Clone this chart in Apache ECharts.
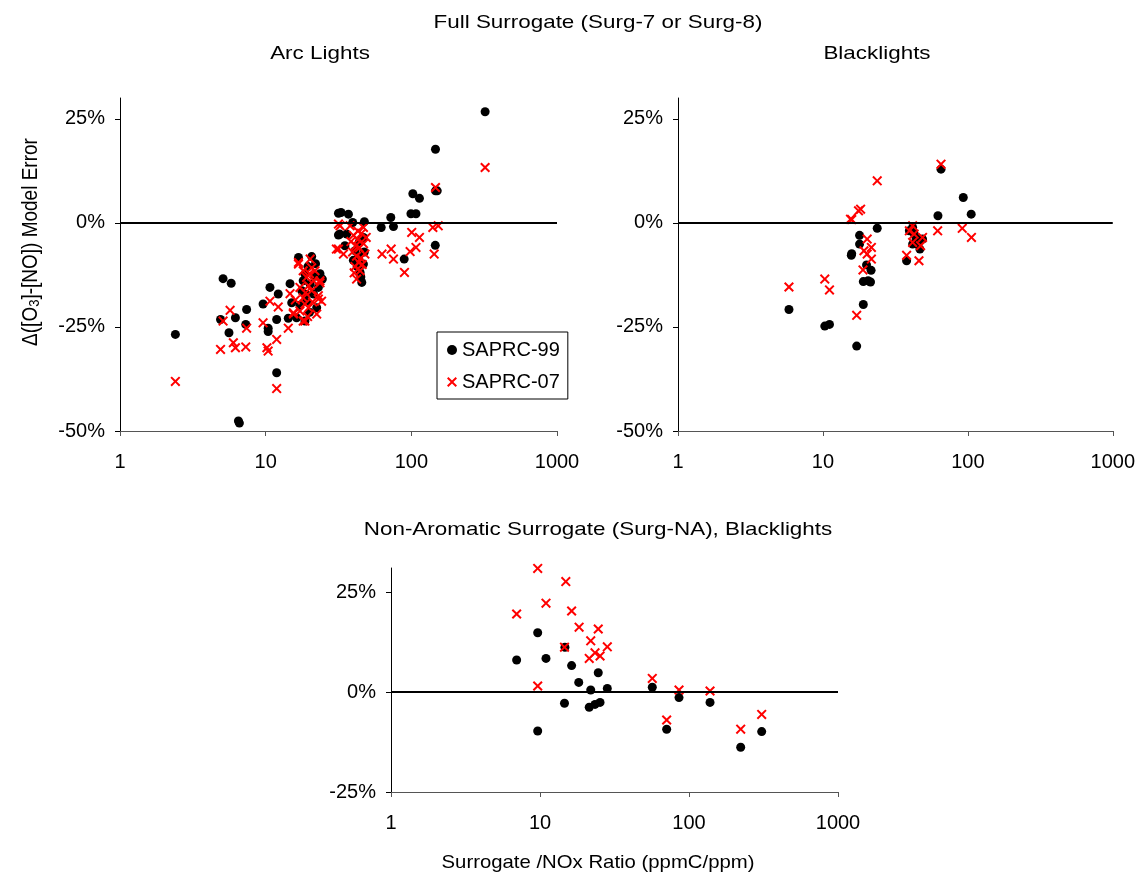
<!DOCTYPE html>
<html>
<head>
<meta charset="utf-8">
<title>Surrogate model error vs Surrogate/NOx ratio</title>
<script src="https://cdn.jsdelivr.net/npm/echarts@6/dist/echarts.min.js"></script>
<style>
  html, body { margin: 0; padding: 0; background: #fff; }
  #chart { width: 1138px; height: 876px; }
</style>
</head>
<body>
<div id="chart"></div>
<script>
// Surrogate/NOx ratio (ppmC/ppm) vs model error in delta([O3]-[NO]), percent.

// Full surrogate, arc light chamber
const arcSaprc99 = [
  [2.4,-26.8],[5.1,-13.4],[5.8,-14.5],[4.9,-23.2],[6.2,-22.8],[5.6,-26.4],[7.4,-20.8],[7.3,-24.4],
  [6.5,-47.6],[6.6,-48.1],[10.7,-15.5],[12.2,-17.1],[9.6,-19.5],[10.4,-25.3],[10.4,-26.1],[11.9,-23.2],
  [11.9,-36.0],[14.7,-14.6],[15.1,-19.2],[14.3,-22.9],[16.8,-8.3],[20.7,-8.1],[23.6,-12.2],[18.6,-12.3],
  [17.7,-16.3],[23.0,-15.5],[19.1,-18.8],[22.4,-20.4],[16.3,-22.8],[18.6,-23.6],[20.2,-14.7],[21.3,-17.1],
  [18.1,-13.9],[19.5,-10.5],[21.8,-12.8],[17.2,-19.8],[20.0,-21.5],[22.0,-9.8],[24.5,-13.5],[18.9,-17.2],
  [31.6,2.3],[31.6,-2.9],[321,26.7],[146.5,17.7],[146.5,7.7],[150.6,7.7],[102.4,7.0],[113.7,5.9],
  [99.4,2.2],[107.6,2.2],[72.3,1.3],[62.1,-1.1],[75.4,-0.9],[89.3,-8.7],[146,-5.4],[32.9,2.5],
  [37.0,2.1],[47.6,0.3],[39.6,0.1],[32.3,-2.7],[36.0,-2.7],[46.9,-3.5],[45.7,-14.3],[44.5,-11.9],
  [46.9,-9.9],[35.0,-5.5],[41.1,-6.7],[43.2,-8.3],[44.0,-4.5],[42.5,-10.5],[45.0,-13.0],[40.0,-9.0],[47.5,-7.0]
];
const arcSaprc07 = [
  [2.4,-38.1],[4.9,-30.4],[5.1,-23.6],[5.7,-21.0],[6.0,-28.8],[6.2,-30.0],[7.3,-29.8],[7.4,-25.3],
  [10.2,-30.0],[10.4,-30.8],[9.6,-24.0],[10.7,-18.8],[12.2,-20.2],[11.9,-28.0],[11.9,-39.8],[14.3,-25.3],
  [14.7,-17.0],[15.5,-21.6],[16.8,-9.9],[20.2,-8.7],[20.7,-10.8],[23.6,-13.9],[23.0,-18.3],[18.6,-23.6],
  [30.6,-6.3],[31.6,-0.3],[16.8,-9.5],[18.1,-11.5],[21.8,-11.5],[19.1,-13.1],[23.6,-14.4],[17.2,-15.5],
  [20.7,-16.3],[24.2,-18.8],[18.1,-18.0],[19.7,-20.4],[22.4,-21.9],[17.2,-21.2],[18.1,-23.6],[15.5,-21.9],
  [19.7,-15.1],[21.3,-13.9],[23.0,-17.5],[18.6,-19.5],[20.0,-12.2],[18.8,-16.8],[21.0,-19.0],[19.4,-22.5],
  [16.0,-18.5],[321,13.3],[146.5,8.5],[140.5,-1.1],[153,-0.7],[143.5,-7.5],[100.6,-2.3],[113.7,-3.5],
  [107.6,-5.9],[98.1,-6.9],[89.7,-11.9],[62.9,-7.5],[72.7,-6.3],[75.4,-8.7],[32.4,-0.7],[38.0,-0.7],
  [46.9,-1.1],[31.6,-6.3],[34.2,-7.5],[42.1,-13.5],[40.0,-3.0],[43.0,-4.0],[45.5,-2.5],[41.5,-5.5],
  [44.0,-6.0],[47.0,-5.0],[39.5,-7.0],[42.0,-8.0],[45.0,-8.5],[48.0,-7.5],[43.5,-9.5],[41.0,-10.5],
  [46.0,-10.0],[44.5,-11.5],[40.5,-12.0],[43.0,-2.0],[49.0,-3.5],[38.5,-4.5]
];

// Full surrogate, blacklight chamber
const blSaprc99 = [
  [5.83,-20.8],[10.3,-24.8],[11.1,-24.4],[17.1,-29.6],[19.0,-19.6],[15.7,-7.8],[15.8,-7.4],[17.9,-3.0],
  [17.9,-5.1],[19.0,-14.1],[20.5,-13.9],[21.3,-14.2],[20.0,-10.1],[21.5,-11.4],[23.7,-1.3],[65.3,12.9],
  [93.0,6.1],[62.2,1.7],[105.5,2.1],[41.6,-1.1],[39.5,-1.9],[43.9,-3.5],[41.6,-5.1],[46.7,-6.3],
  [48.7,-3.9],[37.8,-9.1],[45.0,-5.1],[42.5,-2.5]
];
const blSaprc07 = [
  [5.83,-15.4],[10.3,-13.5],[11.1,-16.1],[17.1,-22.2],[15.5,0.9],[15.8,0.8],[17.6,2.9],[18.2,3.3],
  [23.7,10.1],[20.2,-3.9],[21.6,-5.9],[19.2,-6.7],[20.2,-7.5],[21.6,-8.7],[18.9,-11.3],[65.3,14.1],
  [61.9,-1.9],[91.5,-1.3],[105.9,-3.5],[37.8,-7.8],[46.0,-9.1],[41.6,-0.7],[39.5,-1.9],[42.6,-2.7],
  [48.7,-3.5],[41.6,-4.7],[47.2,-5.5]
];

// Non-aromatic surrogate, blacklight chamber
const naSaprc99 = [
  [6.97,8.0],[9.65,14.8],[10.97,8.4],[9.65,-9.75],[14.7,11.2],[14.6,-2.8],[16.3,6.6],[18.2,2.4],
  [21.9,0.5],[24.6,4.8],[21.4,-3.8],[23.4,-3.1],[25.3,-2.6],[28.3,0.9],[56.7,1.2],[85.7,-1.4],
  [70.8,-9.3],[138.4,-2.6],[222.3,-13.8],[307.5,-9.9]
];
const naSaprc07 = [
  [6.97,19.5],[9.65,30.9],[10.97,22.2],[9.65,1.5],[14.9,27.6],[14.6,11.2],[16.3,20.25],[18.3,16.2],
  [21.9,12.8],[24.6,15.75],[21.4,8.4],[23.4,9.8],[25.3,9.0],[28.3,11.3],[56.7,3.4],[85.7,0.5],
  [70.8,-7.0],[138.4,0.25],[222.3,-9.3],[307.5,-5.6]
];

const seriesNames = ['SAPRC-99', 'SAPRC-07'];
const yTicksFull = [-50, -25, 0, 25];
const yTicksNA = [-25, 0, 25];

const FONT = "'Liberation Sans', Arial, sans-serif";
const WIDE = 1.18; // horizontal stretch of the heading texts
const CROSS = 'path://M0,1.4L1.4,0L5,3.6L8.6,0L10,1.4L6.4,5L10,8.6L8.6,10L5,6.4L1.4,10L0,8.6L3.6,5Z';

function xAxisFor(i) {
  return {
    type: 'log', logBase: 10, min: 1, max: 1000, gridIndex: i,
    axisLine: { show: true, onZero: false, lineStyle: { color: '#555', width: 1 } },
    axisTick: { show: true, length: 5, lineStyle: { color: '#555' } },
    minorTick: { show: false },
    axisLabel: { color: '#000', fontSize: 20, fontFamily: FONT, margin: 21, formatter: v => String(Math.round(v)) },
    splitLine: { show: false }
  };
}
function yAxisFor(i, min, max, ticks) {
  return {
    type: 'value', min: min, max: max, gridIndex: i,
    axisLine: { show: true, onZero: false, lineStyle: { color: '#000', width: 1 } },
    axisTick: { show: true, length: 5, customValues: ticks, lineStyle: { color: '#000' } },
    axisLabel: { customValues: ticks, formatter: '{value}%', color: '#000', fontSize: 20, fontFamily: FONT, margin: 15 },
    splitLine: { show: false }
  };
}
const zeroLine = {
  silent: true, symbol: ['none', 'none'], animation: false,
  label: { show: false },
  lineStyle: { color: '#000', width: 2, type: 'solid', opacity: 1 },
  emphasis: { disabled: true },
  data: [{ yAxis: 0 }]
};
function dots(data, i) {
  return {
    name: seriesNames[0], type: 'scatter', xAxisIndex: i, yAxisIndex: i, data: data, clip: false,
    symbol: 'circle', symbolSize: 9, itemStyle: { color: '#000', opacity: 1 }, markLine: zeroLine, z: 3
  };
}
function crosses(data, i) {
  return {
    name: seriesNames[1], type: 'scatter', xAxisIndex: i, yAxisIndex: i, data: data, clip: false,
    symbol: CROSS, symbolSize: 10, itemStyle: { color: '#ff0000', opacity: 1 }, z: 4
  };
}
function heading(text, x, y, stretch) {
  return {
    type: 'text', x: x, y: y, scaleX: stretch || WIDE,
    style: { text: text, font: '19px ' + FONT, fill: '#000', textAlign: 'center', textVerticalAlign: 'middle' }
  };
}

const chart = echarts.init(document.getElementById('chart'), null, { renderer: 'canvas' });
chart.setOption({
  animation: false,
  backgroundColor: '#fff',
  textStyle: { fontFamily: FONT },
  grid: [
    { left: 120, top: 98, width: 437, height: 333 },
    { left: 678, top: 98, width: 436, height: 333 },
    { left: 391, top: 568, width: 447, height: 224 }
  ],
  xAxis: [xAxisFor(0), xAxisFor(1), xAxisFor(2)],
  yAxis: [yAxisFor(0, -50, 30, yTicksFull), yAxisFor(1, -50, 30, yTicksFull), yAxisFor(2, -25, 31, yTicksNA)],
  legend: {
    orient: 'vertical', left: 437, top: 332,
    backgroundColor: '#fff', borderColor: '#000', borderWidth: 1, borderRadius: 0,
    padding: [8, 8, 7, 10], itemGap: 12, itemWidth: 10, itemHeight: 10,
    textStyle: { fontSize: 20, color: '#000', fontFamily: FONT },
    selectedMode: false,
    data: [
      { name: seriesNames[0], icon: 'circle', itemStyle: { color: '#000' } },
      { name: seriesNames[1], icon: CROSS, itemStyle: { color: '#ff0000' } }
    ]
  },
  graphic: [
    heading('Full Surrogate (Surg-7 or Surg-8)', 598, 23),
    heading('Arc Lights', 320, 54),
    heading('Blacklights', 877, 54),
    heading('Non-Aromatic Surrogate (Surg-NA), Blacklights', 598, 530),
    heading('Surrogate /NOx Ratio (ppmC/ppm)', 598, 863, 1.07),
    {
      type: 'text', x: 31, y: 242, rotation: Math.PI / 2, scaleY: WIDE,
      style: {
        text: '{a|Δ([O}{s|3}{a|]-[NO]) Model Error}',
        textAlign: 'center', textVerticalAlign: 'middle', fill: '#000',
        rich: {
          a: { fontSize: 19, fontFamily: FONT, fill: '#000' },
          s: { fontSize: 13, fontFamily: FONT, fill: '#000', verticalAlign: 'bottom', padding: [6, 0, 0, 0] }
        }
      }
    }
  ],
  series: [
    dots(arcSaprc99, 0), crosses(arcSaprc07, 0),
    dots(blSaprc99, 1), crosses(blSaprc07, 1),
    dots(naSaprc99, 2), crosses(naSaprc07, 2)
  ]
});
</script>
</body>
</html>
